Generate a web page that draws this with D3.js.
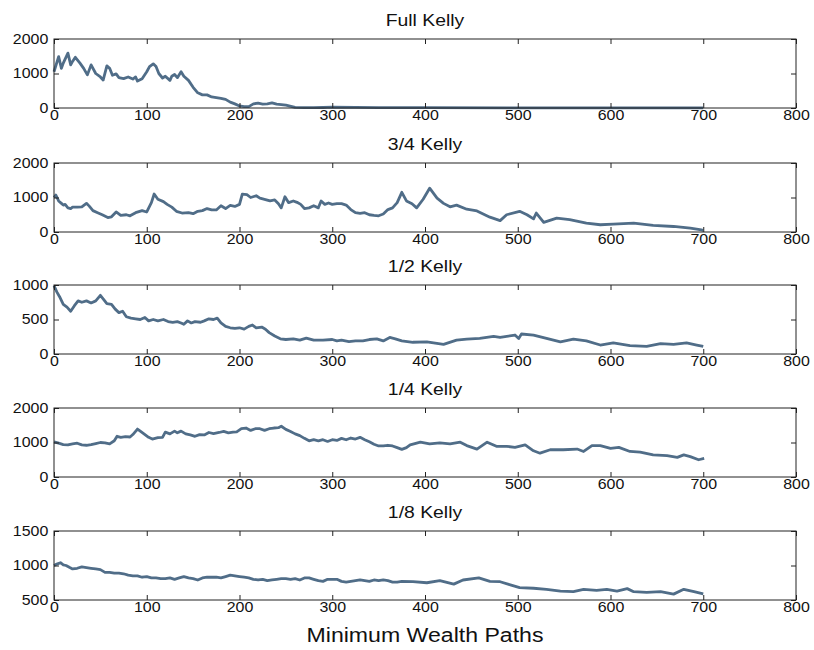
<!DOCTYPE html>
<html>
<head>
<meta charset="utf-8">
<script src="https://cdn.jsdelivr.net/npm/d3@7"></script>
<style>
  body { margin: 0; background: #FFFFFF; }
  svg text { font-family: "Liberation Sans", Arial, sans-serif; fill: #111; }
</style>
</head>
<body>
<svg></svg>
<script>
//--Data: [step, wealth]
const fullKelly = [[0,1050],[5,1490],[8,1150],[10,1300],[15,1590],[18,1250],[20,1350],[23,1470],[28,1300],[32,1150],[36,960],[40,1250],[45,1000],[50,900],[53,810],[57,1220],[60,1150],[63,950],[67,990],[70,880],[75,850],[80,900],[85,840],[88,900],[90,780],[95,850],[100,1050],[103,1200],[107,1280],[110,1200],[113,1000],[117,870],[120,920],[125,800],[127,920],[130,970],[133,880],[137,1050],[140,920],[145,800],[150,600],[155,440],[160,380],[165,380],[170,320],[175,300],[180,280],[185,250],[190,170],[195,120],[200,60],[205,40],[210,40],[215,120],[220,140],[225,110],[230,120],[235,150],[240,110],[245,100],[250,80],[260,20],[270,10],[280,10],[290,15],[300,25],[350,10],[400,8],[500,6],[600,5],[700,5]];

const threeQuarterKelly = [[0,1000],[2,1070],[5,900],[8,830],[10,780],[12,800],[15,700],[18,680],[20,720],[25,720],[30,730],[35,830],[38,750],[42,620],[47,560],[52,500],[58,420],[62,440],[67,580],[72,480],[78,500],[82,470],[88,560],[95,620],[100,580],[105,850],[108,1100],[112,950],[118,880],[122,800],[127,720],[132,600],[138,550],[145,560],[150,530],[155,600],[160,620],[165,680],[170,640],[175,640],[180,760],[185,680],[190,770],[195,740],[200,800],[203,1100],[208,1080],[212,1000],[218,1050],[222,980],[228,940],[233,900],[238,930],[242,820],[245,700],[249,1020],[253,850],[258,900],[262,860],[266,800],[270,680],[275,700],[280,760],[285,700],[288,900],[292,800],[296,840],[300,800],[305,820],[310,820],[315,780],[320,650],[325,560],[330,540],[335,560],[340,500],[345,480],[350,470],[355,520],[360,650],[365,700],[370,850],[375,1150],[380,900],[386,820],[391,700],[398,950],[405,1270],[413,980],[420,830],[427,730],[434,780],[445,660],[456,610],[470,430],[481,330],[488,500],[502,600],[510,500],[517,380],[520,550],[528,280],[542,400],[556,360],[574,260],[589,210],[603,230],[625,260],[646,190],[668,160],[686,110],[698,60],[700,50]];

const halfKelly = [[0,990],[3,900],[6,830],[10,720],[14,680],[18,620],[22,700],[26,770],[30,750],[35,770],[40,740],[45,770],[50,850],[53,800],[57,730],[62,720],[66,650],[70,600],[74,620],[78,540],[83,520],[88,510],[93,500],[98,530],[102,480],[107,500],[112,480],[118,500],[123,470],[128,460],[133,470],[137,450],[140,430],[144,480],[148,450],[152,470],[158,460],[162,480],[167,510],[172,500],[176,520],[180,450],[185,400],[190,380],[195,370],[200,380],[205,360],[210,400],[214,420],[218,380],[224,390],[228,360],[232,310],[238,260],[244,220],[250,210],[258,220],[265,200],[272,230],[280,200],[290,200],[300,210],[305,190],[310,200],[318,180],[325,190],[333,190],[340,210],[348,220],[355,190],[362,240],[368,220],[375,190],[387,170],[402,175],[420,140],[434,200],[445,215],[459,225],[474,255],[481,240],[497,275],[501,225],[504,290],[517,275],[531,225],[546,175],[560,215],[574,190],[589,130],[603,160],[621,120],[639,110],[654,150],[668,140],[682,160],[693,130],[700,110]];

const quarterKelly = [[0,1020],[5,980],[10,940],[15,930],[20,960],[25,980],[30,930],[35,920],[40,940],[45,970],[50,1000],[55,990],[60,960],[65,1050],[68,1180],[72,1150],[77,1170],[82,1160],[85,1230],[90,1390],[93,1330],[97,1250],[102,1150],[106,1100],[112,1140],[117,1150],[120,1300],[125,1250],[130,1330],[133,1280],[137,1330],[142,1250],[147,1220],[152,1180],[157,1230],[162,1220],[167,1290],[172,1260],[178,1290],[183,1320],[188,1280],[193,1300],[197,1310],[202,1400],[207,1420],[212,1350],[217,1400],[222,1400],[227,1350],[232,1400],[237,1420],[242,1430],[245,1470],[250,1380],[255,1320],[260,1250],[265,1200],[270,1120],[275,1050],[280,1080],[285,1050],[290,1080],[295,1030],[300,1080],[305,1060],[310,1120],[315,1080],[320,1130],[325,1100],[330,1150],[335,1080],[340,1020],[345,950],[350,900],[355,900],[360,920],[365,900],[370,850],[375,800],[380,850],[384,930],[395,1010],[405,960],[416,990],[427,960],[438,1010],[445,910],[456,810],[467,1010],[477,890],[488,890],[497,860],[508,930],[517,760],[524,690],[535,790],[549,790],[564,810],[571,740],[580,910],[589,910],[600,830],[609,860],[621,740],[632,720],[646,640],[661,620],[672,570],[679,640],[686,590],[695,500],[701,540]];

const eighthKelly = [[0,1000],[3,1020],[7,1040],[10,1010],[13,1000],[17,970],[20,950],[25,960],[30,980],[35,970],[40,960],[45,950],[50,940],[55,900],[60,900],[65,890],[70,890],[75,880],[80,860],[85,850],[90,850],[95,830],[100,840],[105,820],[110,820],[115,810],[120,810],[125,820],[130,800],[135,820],[140,840],[145,820],[150,810],[155,790],[160,820],[165,830],[170,830],[175,830],[180,820],[185,840],[190,860],[195,850],[200,840],[205,830],[210,820],[215,800],[220,790],[225,800],[230,780],[235,790],[240,800],[245,810],[250,810],[255,800],[260,810],[265,790],[270,820],[275,820],[280,800],[285,780],[290,770],[295,800],[300,800],[305,800],[310,770],[315,760],[320,770],[325,780],[330,790],[335,780],[340,770],[345,790],[350,780],[355,790],[360,780],[365,760],[370,760],[375,770],[387,765],[402,750],[416,780],[431,730],[441,790],[458,820],[470,770],[481,765],[492,720],[502,680],[517,670],[531,655],[546,630],[560,620],[571,655],[585,640],[596,655],[607,630],[618,665],[625,620],[639,610],[654,620],[668,585],[679,655],[690,620],[700,590]];

const panelTitles = ["Full Kelly", "3/4 Kelly", "1/2 Kelly", "1/4 Kelly", "1/8 Kelly"];
const panelSeries = [fullKelly, threeQuarterKelly, halfKelly, quarterKelly, eighthKelly];
const yDomains = [[0, 2000], [0, 2000], [0, 1000], [0, 2000], [500, 1500]];
const xTicks = [0, 100, 200, 300, 400, 500, 600, 700, 800];
const xLabel = "Minimum Wealth Paths";

//--Layout
var canvas = {
  width: 814,
  height: 650,
  left: 54,
  right: 796,
  tops: [39, 163, 285, 408, 531],
  panelHeight: 69,
  lineColor: "#506d88",
  stretch: "scale(1.14,1)"
};

let root = d3.select("svg")
  .attr("width", canvas.width)
  .attr("height", canvas.height)
  .style("background-color", "#FFFFFF");

let x = d3.scaleLinear().domain([0, 800]).range([canvas.left, canvas.right]);

panelSeries.forEach((series, i) => {
  let top = canvas.tops[i];
  let bottom = top + canvas.panelHeight;
  let y = d3.scaleLinear().domain(yDomains[i]).range([bottom, top]);
  let yTicks = [yDomains[i][0], (yDomains[i][0] + yDomains[i][1]) / 2, yDomains[i][1]];
  let g = root.append("g").classed("panel", true);

  //Title
  g.append("text")
    .attr("transform", "translate(" + (canvas.left + canvas.right) / 2 + "," + (top - 13) + ")" + canvas.stretch)
    .attr("text-anchor", "middle")
    .style("font-size", "17px")
    .text(panelTitles[i]);

  //Line
  g.append("path")
    .datum(series)
    .attr("fill", "none")
    .attr("stroke", canvas.lineColor)
    .attr("stroke-width", 2.8)
    .attr("stroke-linejoin", "round")
    .attr("d", d3.line().x(d => x(d[0])).y(d => y(d[1])));

  //Axes, ticks pointing inward
  let bottomAxis = g.append("g")
    .attr("transform", "translate(0," + bottom + ")")
    .call(d3.axisBottom(x).tickValues(xTicks).tickFormat(d3.format("d")).tickSizeInner(-5).tickSizeOuter(0).tickPadding(2));
  let leftAxis = g.append("g")
    .attr("transform", "translate(" + canvas.left + ",0)")
    .call(d3.axisLeft(y).tickValues(yTicks).tickFormat(d3.format("d")).tickSizeInner(-5).tickSizeOuter(0).tickPadding(5));
  g.append("g")
    .attr("transform", "translate(0," + top + ")")
    .call(d3.axisTop(x).tickValues(xTicks).tickSizeInner(-5).tickSizeOuter(0).tickFormat(""));
  g.append("g")
    .attr("transform", "translate(" + canvas.right + ",0)")
    .call(d3.axisRight(y).tickValues(yTicks).tickSizeInner(-5).tickSizeOuter(0).tickFormat(""));

  g.selectAll(".domain").remove();
  g.selectAll(".tick line").attr("stroke", "#222");
  [bottomAxis, leftAxis].forEach(ax => {
    ax.selectAll("text")
      .attr("transform", canvas.stretch)
      .style("font-size", "14px")
      .attr("fill", "#111");
  });

  //Frame
  g.append("rect")
    .attr("x", canvas.left)
    .attr("y", top)
    .attr("width", canvas.right - canvas.left)
    .attr("height", canvas.panelHeight)
    .attr("fill", "none")
    .attr("stroke", "#222")
    .attr("stroke-width", 1);
});

//--X label
root.append("text")
  .attr("transform", "translate(" + (canvas.left + canvas.right) / 2 + ",642)scale(1.1,1)")
  .attr("text-anchor", "middle")
  .style("font-size", "21px")
  .text(xLabel);
</script>
</body>
</html>
